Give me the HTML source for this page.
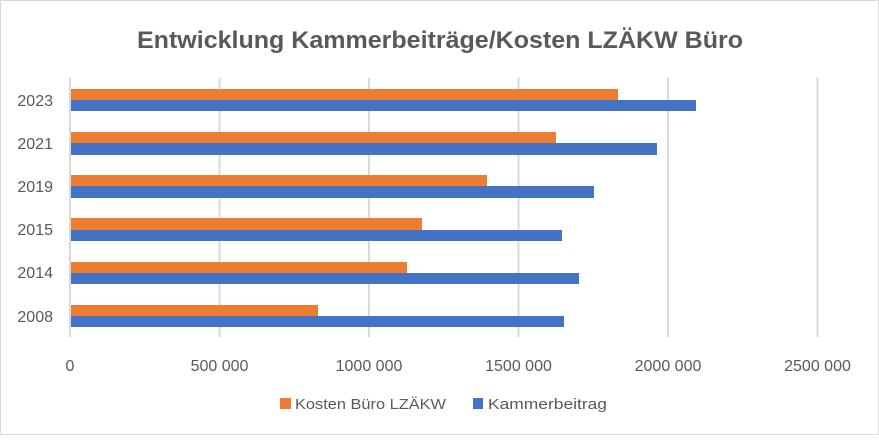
<!DOCTYPE html>
<html><head><meta charset="utf-8"><style>
html,body{margin:0;padding:0;background:#fff}
body{width:879px;height:435px;overflow:hidden}
text{font-family:"Liberation Sans",sans-serif;fill:#595959}
</style></head><body>
<svg width="879" height="435" xmlns="http://www.w3.org/2000/svg">
<rect x="0.5" y="0.5" width="878" height="434" fill="#fff" stroke="#d9d9d9"/>
<text x="440" y="48" text-anchor="middle" font-size="24" font-weight="bold" textLength="606" lengthAdjust="spacingAndGlyphs">Entwicklung Kammerbeiträge/Kosten LZÄKW Büro</text>
<g stroke="#d9d9d9" stroke-width="2">
<line x1="70" y1="78" x2="70" y2="337"/><line x1="219.5" y1="78" x2="219.5" y2="337"/><line x1="369" y1="78" x2="369" y2="337"/><line x1="518.5" y1="78" x2="518.5" y2="337"/><line x1="668" y1="78" x2="668" y2="337"/><line x1="817.5" y1="78" x2="817.5" y2="337"/>
</g>
<g fill="#ed7d31">
<rect x="71" y="89" width="547" height="11"/>
<rect x="71" y="132" width="485" height="11"/>
<rect x="71" y="175" width="416" height="11"/>
<rect x="71" y="218" width="351" height="12"/>
<rect x="71" y="262" width="336" height="11"/>
<rect x="71" y="305" width="247" height="11"/>
</g>
<g fill="#4472c4">
<rect x="71" y="100" width="625" height="11"/>
<rect x="71" y="143" width="586" height="12"/>
<rect x="71" y="186" width="523" height="12"/>
<rect x="71" y="230" width="491" height="11"/>
<rect x="71" y="273" width="508" height="11"/>
<rect x="71" y="316" width="493" height="11"/>
</g>
<g font-size="16" text-anchor="end">
<text x="53" y="106">2023</text><text x="53" y="149">2021</text><text x="53" y="192">2019</text><text x="53" y="235">2015</text><text x="53" y="278">2014</text><text x="53" y="322">2008</text>
</g>
<g font-size="16" text-anchor="middle">
<text x="70" y="371">0</text><text x="219.5" y="371">500 000</text><text x="369" y="371">1000 000</text><text x="518.5" y="371">1500 000</text><text x="668" y="371">2000 000</text><text x="817.5" y="371">2500 000</text>
</g>
<rect x="280" y="398" width="11" height="11" fill="#ed7d31"/>
<text x="295" y="409" font-size="15" textLength="151" lengthAdjust="spacingAndGlyphs">Kosten Büro LZÄKW</text>
<rect x="473" y="398" width="10" height="11" fill="#4472c4"/>
<text x="488" y="409" font-size="15" textLength="119" lengthAdjust="spacingAndGlyphs">Kammerbeitrag</text>
</svg>
</body></html>
